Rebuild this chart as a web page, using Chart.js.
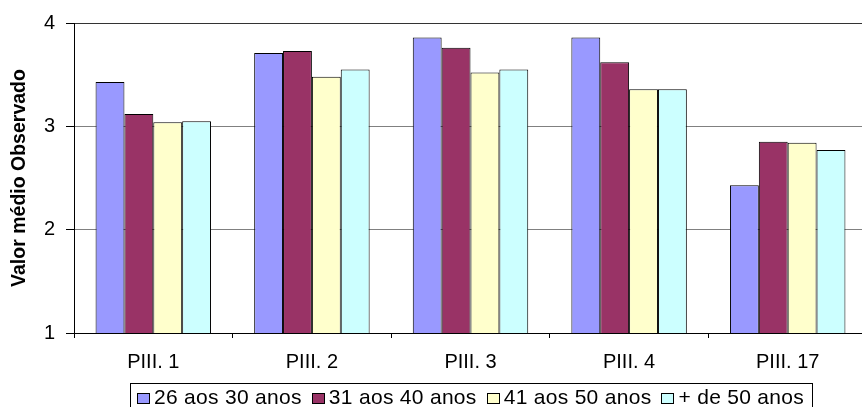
<!DOCTYPE html>
<html>
<head>
<meta charset="utf-8">
<script src="https://cdn.jsdelivr.net/npm/chart.js@4.4.1/dist/chart.umd.min.js"></script>
<style>
  html, body { margin: 0; padding: 0; overflow: hidden; background: #fff; }
  #wrap { position: relative; width: 870px; height: 407px; }
  #legend {
    position: absolute; left: 130px; top: 383px;
    border: 1px solid #000; border-bottom: none;
    padding: 1px 8px 6px 6px;
    display: flex; white-space: nowrap;
    font-family: "Liberation Sans", Arial, sans-serif;
    font-size: 21px; line-height: 24px; letter-spacing: 0.3px; color: #000;
  }
  #legend .item { display: flex; align-items: center; margin-right: 10px; }
  #legend .item:last-child { margin-right: 0; }
  #legend .box { width: 13px; height: 11px; border: 1px solid #000; box-sizing: border-box; margin-right: 4px; margin-top: 2px; }
</style>
</head>
<body>
<div id="wrap">
  <canvas id="chart" width="870" height="407"></canvas>
  <div id="legend"></div>
</div>
<script>
// categories and series
const categories = ['PIII. 1', 'PIII. 2', 'PIII. 3', 'PIII. 4', 'PIII. 17'];
const seriesNames = ['26 aos 30 anos', '31 aos 40 anos', '41 aos 50 anos', '+ de 50 anos'];
const age26to30 = [3.43, 3.71, 3.86, 3.86, 2.43];
const age31to40 = [3.12, 3.73, 3.76, 3.62, 2.85];
const age41to50 = [3.04, 3.48, 3.52, 3.36, 2.84];
const age50plus = [3.05, 3.55, 3.55, 3.36, 2.77];
const yTicks = [1, 2, 3, 4];

const colors = ['#9999FF', '#993366', '#FFFFCC', '#CCFFFF'];
const values = [age26to30, age31to40, age41to50, age50plus];

const datasets = values.map((v, i) => ({
  label: seriesNames[i],
  data: v,
  backgroundColor: colors[i],
  borderColor: '#000',
  borderWidth: 1,
  categoryPercentage: 0.728,
  barPercentage: 1.0
}));

const font = 'Liberation Sans, Arial, sans-serif';

new Chart(document.getElementById('chart'), {
  type: 'bar',
  data: { labels: categories, datasets },
  options: {
    responsive: false,
    animation: false,
    devicePixelRatio: 1,
    layout: { padding: { top: 20, right: 3, left: 0, bottom: 0 } },
    plugins: { legend: { display: false }, tooltip: { enabled: false } },
    scales: {
      x: {
        grid: { drawOnChartArea: false, drawTicks: true, tickLength: 5, tickColor: '#000', offset: true },
        border: { color: '#000', width: 1 },
        ticks: { color: '#000', font: { family: font, size: 20 }, padding: 12, maxRotation: 0 },
        afterFit: s => { s.height = 74; }
      },
      y: {
        min: 1, max: 4,
        afterBuildTicks: s => { s.ticks = yTicks.map(v => ({ value: v })); },
        grid: {
          color: c => c.tick && c.tick.value === 4 ? '#333' : '#808080',
          tickLength: 8, tickColor: '#000'
        },
        border: { color: '#000', width: 1 },
        ticks: { color: '#000', font: { family: font, size: 20 }, padding: 11 },
        title: {
          display: true, text: 'Valor médio Observado', color: '#000',
          font: { family: font, size: 19.5, weight: 'bold' },
          padding: { top: 8, bottom: 0 }
        },
        afterFit: s => { s.width = 74; }
      }
    }
  }
});

// legend built from the same series arrays
const legend = document.getElementById('legend');
seriesNames.forEach((name, i) => {
  const item = document.createElement('div');
  item.className = 'item';
  const box = document.createElement('span');
  box.className = 'box';
  box.style.background = colors[i];
  const txt = document.createElement('span');
  txt.textContent = name;
  item.appendChild(box);
  item.appendChild(txt);
  legend.appendChild(item);
});
</script>
</body>
</html>
